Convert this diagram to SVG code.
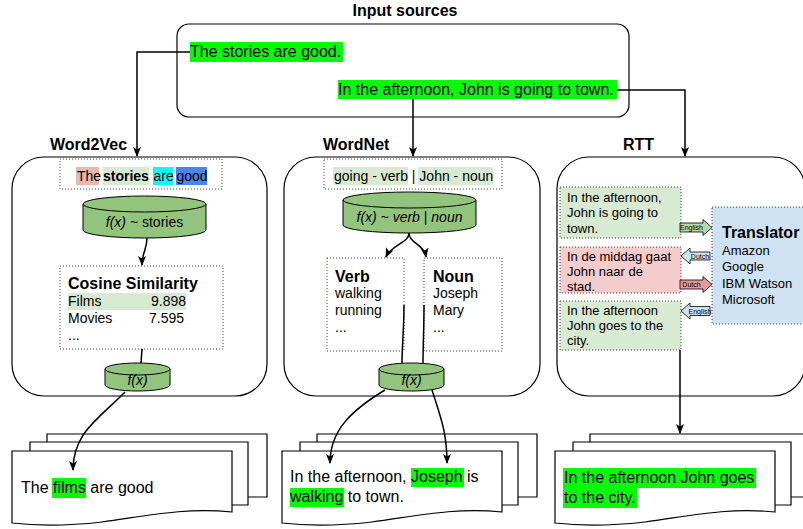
<svg xmlns="http://www.w3.org/2000/svg" width="803" height="529" viewBox="0 0 803 529">
<style>
text{font-family:"Liberation Sans",Arial,sans-serif;fill:#000}
.t16{font-size:16px}.t14{font-size:14px}.t13{font-size:13px}.b{font-weight:bold}.i{font-style:italic}
.panel{fill:#fff;stroke:#000;stroke-width:1.2}
.dot{fill:#fff;stroke:#444;stroke-width:1;stroke-dasharray:1 2}
.cyl{fill:#93c47d;stroke:#000;stroke-width:1}
.edge{fill:none;stroke:#000;stroke-width:1.5}
.hl{fill:#00ff00}
.page{fill:#fff;stroke:#000;stroke-width:1.2}
.barrow{stroke:#000;stroke-width:0.8}
.tiny{font-size:7px}
</style>
<defs>
<marker id="ah" markerWidth="10" markerHeight="10" refX="9" refY="5" orient="auto" markerUnits="userSpaceOnUse">
<path d="M0,1 L10,5 L0,9 L2.5,5 Z" fill="#000"/>
</marker>
<g id="stack">
<path class="page" d="M35,-9 V-17 H255 V46 H236"/>
<path class="page" d="M18,0 V-9 H236 V54 H220"/>
<path class="page" d="M0,0 H220 V61 C170,56 130,66 90,71 C55,75 25,75 0,72 Z"/>
</g>
</defs>

<text class="t16 b" x="405" y="16" text-anchor="middle">Input sources</text>
<text class="t16 b" x="50" y="150">Word2Vec</text>
<text class="t16 b" x="323" y="150">WordNet</text>
<text class="t16 b" x="623" y="150">RTT</text>

<g id="input">
<rect class="panel" x="177" y="24" width="452" height="93" rx="12"/>
<rect class="hl" x="190" y="42" width="153" height="20"/>
<text class="t16" x="190" y="57">The stories are good.</text>
<rect class="hl" x="338" y="80" width="279" height="19"/>
<text class="t16" x="338" y="95">In the afternoon, John is going to town.</text>
</g>

<g id="word2vec">
<rect class="panel" x="12" y="157" width="255" height="239" rx="32"/>
<rect class="dot" x="60" y="159" width="162" height="30"/>
<rect x="76" y="167" width="23" height="18" fill="#e6b8af"/>
<rect x="103" y="167" width="46" height="18" fill="#d9ead3"/>
<rect x="153" y="167" width="20" height="18" fill="#00ffff"/>
<rect x="176" y="167" width="31" height="18" fill="#4a86e8"/>
<text class="t14" y="181"><tspan x="77">The</tspan><tspan x="103" class="b">stories</tspan><tspan x="153.5">are</tspan><tspan x="176.5">good</tspan></text>
</g>
<g id="w2v-cyl1">
<path class="cyl" d="M83,204 A61.5,8 0 0 1 206,204 V230 A61.5,8 0 0 1 83,230 Z"/>
<path class="cyl" d="M83,204 A61.5,8 0 0 0 206,204" fill="none"/>
<text class="t14" x="144.5" y="227" text-anchor="middle"><tspan class="i">f(x)</tspan> ~ stories</text>
</g>
<g id="w2v-cosine">
<rect class="dot" x="60" y="266" width="163" height="83"/>
<text class="t16 b" x="68" y="289">Cosine Similarity</text>
<rect x="68" y="293" width="118" height="17" fill="#d9ead3"/>
<text class="t14" x="68" y="306">Films</text>
<text class="t14" x="186" y="306" text-anchor="end">9.898</text>
<text class="t14" x="68" y="323">Movies</text>
<text class="t14" x="184" y="323" text-anchor="end">7.595</text>
<text class="t14" x="68" y="340">...</text>
</g>
<g id="w2v-cyl2">
<path class="cyl" d="M105,369 A32.5,6 0 0 1 170,369 V385 A32.5,6 0 0 1 105,385 Z"/>
<path class="cyl" d="M105,369 A32.5,6 0 0 0 170,369" fill="none"/>
<text class="t14 i" x="137.5" y="385" text-anchor="middle">f(x)</text>
</g>

<g id="wordnet">
<rect class="panel" x="284" y="157" width="256" height="239" rx="32"/>
<rect class="dot" x="324" y="159" width="178" height="30"/>
<rect x="333" y="167" width="75" height="18" fill="#d9ead3"/>
<rect x="418" y="167" width="75" height="18" fill="#d9ead3"/>
<text class="t14" x="334" y="181">going - verb | John - noun</text>
</g>
<g id="wn-cyl1">
<path class="cyl" d="M343,200 A66.5,8 0 0 1 476,200 V225 A66.5,8 0 0 1 343,225 Z"/>
<path class="cyl" d="M343,200 A66.5,8 0 0 0 476,200" fill="none"/>
<text class="t14 i" x="409.5" y="222" text-anchor="middle">f(x) ~ verb <tspan font-style="normal">|</tspan> noun</text>
</g>
<g id="wn-verb">
<rect class="dot" x="327" y="258" width="77" height="93"/>
<text class="t16 b" x="335" y="282">Verb</text>
<text class="t14" x="335" y="298">walking</text>
<text class="t14" x="335" y="315">running</text>
<text class="t14" x="335" y="332">...</text>
</g>
<g id="wn-noun">
<rect class="dot" x="424" y="258" width="78" height="93"/>
<text class="t16 b" x="433" y="282">Noun</text>
<text class="t14" x="433" y="298">Joseph</text>
<text class="t14" x="433" y="315">Mary</text>
<text class="t14" x="433" y="332">...</text>
</g>
<g id="wn-cyl2">
<path class="cyl" d="M379,369 A32.5,6 0 0 1 444,369 V385 A32.5,6 0 0 1 379,385 Z"/>
<path class="cyl" d="M379,369 A32.5,6 0 0 0 444,369" fill="none"/>
<text class="t14 i" x="411.5" y="385" text-anchor="middle">f(x)</text>
</g>

<g id="rtt">
<rect class="panel" x="557" y="157" width="248" height="239" rx="32"/>
</g>
<g id="rtt-en1">
<rect class="dot" x="560" y="187" width="121" height="51" fill="#d9ead3" style="fill:#d9ead3"/>
<text class="t13" x="567" y="202">In the afternoon,</text>
<text class="t13" x="567" y="217">John is going to</text>
<text class="t13" x="567" y="233">town.</text>
</g>
<g id="rtt-nl">
<rect class="dot" x="560" y="247" width="121" height="46" style="fill:#f4cccc"/>
<text class="t13" x="567" y="261">In de middag gaat</text>
<text class="t13" x="567" y="276">John naar de</text>
<text class="t13" x="567" y="291">stad.</text>
</g>
<g id="rtt-en2">
<rect class="dot" x="560" y="301" width="121" height="49" style="fill:#d9ead3"/>
<text class="t13" x="567" y="315">In the afternoon</text>
<text class="t13" x="567" y="330">John goes to the</text>
<text class="t13" x="567" y="345">city.</text>
</g>
<g id="translator">
<rect class="dot" x="712" y="207" width="100" height="117" style="fill:#cfe2f3"/>
<text class="t16 b" x="722" y="238">Translator</text>
<text class="t13" x="722" y="255">Amazon</text>
<text class="t13" x="722" y="271">Google</text>
<text class="t13" x="722" y="288">IBM Watson</text>
<text class="t13" x="722" y="304">Microsoft</text>
</g>

<g id="doc1">
<use href="#stack" x="12" y="451"/>
<rect class="hl" x="52" y="478" width="34" height="20"/>
<text class="t16" x="21" y="493">The films are good</text>
</g>
<g id="doc2">
<use href="#stack" x="282" y="451"/>
<rect class="hl" x="411" y="468" width="53" height="19"/>
<rect class="hl" x="290" y="488" width="54" height="19"/>
<text class="t16" x="290" y="482">In the afternoon, Joseph is</text>
<text class="t16" x="290" y="502">walking to town.</text>
</g>
<g id="doc3">
<use href="#stack" x="555" y="451"/>
<rect class="hl" x="563" y="468" width="193" height="20"/>
<rect class="hl" x="563" y="488" width="74" height="20"/>
<text class="t16" x="564" y="483">In the afternoon John goes</text>
<text class="t16" x="564" y="503">to the city.</text>
</g>

<g id="connectors">
<path class="edge" d="M190,52 H137 V156" marker-end="url(#ah)"/>
<path class="edge" d="M413,99 V156" marker-end="url(#ah)"/>
<path class="edge" d="M617,90 H685 V156" marker-end="url(#ah)"/>
<path class="edge" d="M147,238 C147,250 142,252 142,265" marker-end="url(#ah)"/>
<path class="edge" d="M142,349 L141,363"/>
<path class="edge" d="M125,392 C100,418 73,432 73,470" marker-end="url(#ah)"/>
<path class="edge" d="M409,233 C409,243 392,244 386,257" marker-end="url(#ah)"/>
<path class="edge" d="M409,233 C409,243 424,244 426,257" marker-end="url(#ah)"/>
<path class="edge" d="M404,305 C404,330 402,345 402,363"/>
<path class="edge" d="M424,305 C424,330 423,345 423,363"/>
<path class="edge" d="M385,390 C352,410 330,430 330,463" marker-end="url(#ah)"/>
<path class="edge" d="M432,390 C440,415 447,432 447,463" marker-end="url(#ah)"/>
<path class="edge" d="M680,350 V433" marker-end="url(#ah)"/>
<path class="barrow" fill="#b6d7a8" d="M680,223 H703 V219.5 L712,227.5 L703,235.5 V232 H680 Z"/>
<text class="tiny" x="691.5" y="230" text-anchor="middle">English</text>
<path class="barrow" fill="#cfe2f3" d="M710,252 H690 V248 L681,256 L690,264 V260 H710 Z"/>
<text class="tiny" x="700" y="258.5" text-anchor="middle">Dutch</text>
<path class="barrow" fill="#ea9999" d="M680,280 H703 V276.5 L712,284.5 L703,292.5 V289 H680 Z"/>
<text class="tiny" x="691.5" y="287" text-anchor="middle">Dutch</text>
<path class="barrow" fill="#cfe2f3" d="M710,306.5 H690 V303 L681,311 L690,319 V315.5 H710 Z"/>
<text class="tiny" x="700" y="313.5" text-anchor="middle">English</text>
</g>
</svg>
